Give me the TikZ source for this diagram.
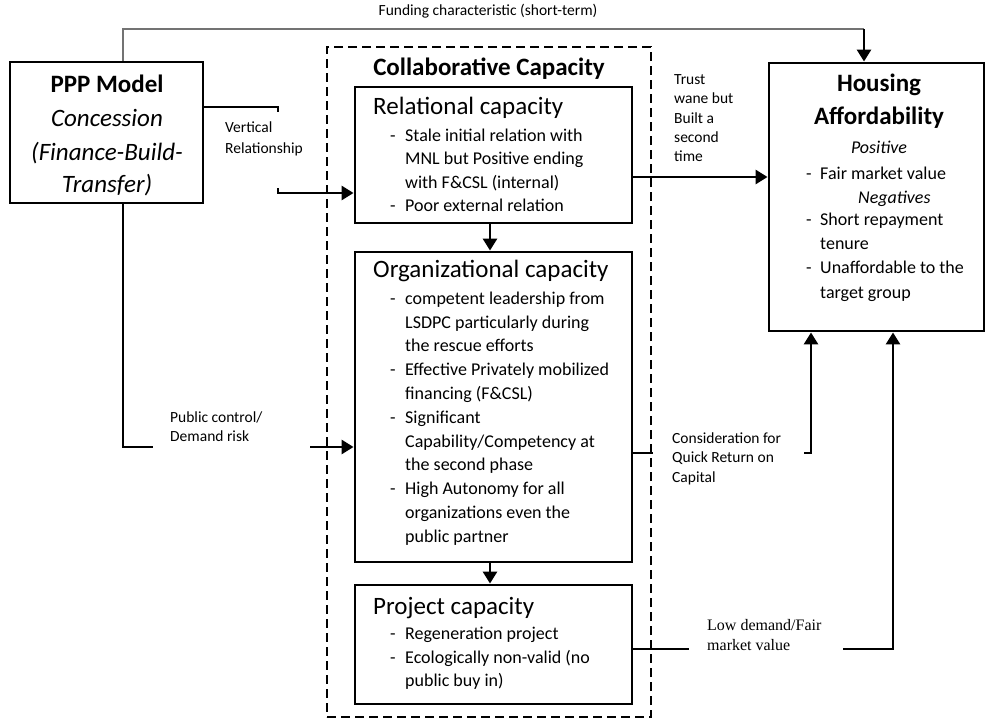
\documentclass[tikz,border=0pt]{standalone}
\usepackage{fontspec}
\setmainfont{Carlito}
\newfontfamily\lserif{Liberation Serif}
\usetikzlibrary{arrows.meta,calc}
\tikzset{
 box/.style={draw, line width=2.9pt, rectangle, inner sep=0pt},
 dbox/.style={draw, line width=2.8pt, dash pattern=on 9pt off 5pt, rectangle, inner sep=0pt},
 conn/.style={line width=2.8pt},
 arr/.style={line width=2.8pt, -{Triangle[length=12pt,width=14pt]}},
 grayline/.style={line width=1.2pt, draw=black!55},
 bt/.style={font=\fontsize{18}{22}\selectfont, anchor=mid west, inner sep=0pt},
 hd/.style={font=\fontsize{25}{29}\selectfont, anchor=mid west, inner sep=0pt},
 bighd/.style={font=\bfseries\fontsize{25}{30}\selectfont, anchor=mid, inner sep=0pt},
 bigit/.style={font=\itshape\fontsize{25}{30}\selectfont, anchor=mid, inner sep=0pt},
 lb/.style={font=\fontsize{15.5}{19}\selectfont, anchor=mid west, inner sep=0pt},
 lbs/.style={font=\lserif\fontsize{16}{19}\selectfont, anchor=mid west, inner sep=0pt},
}
\begin{document}
\begin{tikzpicture}[x=1pt,y=-1pt]
\useasboundingbox (0,0) rectangle (987,720);
% boxes
\node[dbox, minimum width=324pt, minimum height=670pt] (coll) at (489,382) {};
\node[box, minimum width=193pt, minimum height=141pt] (ppp) at (106.5,132.5) {};
\node[box, minimum width=277pt, minimum height=136pt] (rel) at (493.5,155) {};
\node[box, minimum width=277pt, minimum height=310pt] (org) at (493.5,407) {};
\node[box, minimum width=277pt, minimum height=119pt] (proj) at (493.5,644.5) {};
\node[box, minimum width=215pt, minimum height=268pt] (house) at (876.5,197) {};

% PPP text
\node[bighd] (p1) at (107,90) {PPP Model};
\node[bigit] (p2) at (107,124) {Concession};
\node[bigit] (p3) at (107,158) {(Finance-Build-};
\node[bigit] (p4) at (107,190) {Transfer)};

% Collaborative title
\node[bighd] (ct) at (489,73) {Collaborative Capacity};

% Relational
\node[hd] (rt) at (373,112) {Relational capacity};
\node[bt] (rd1) at (390,139) {-};
\node[bt] (r1) at (405,139) {Stale initial relation with};
\node[bt] (r2) at (405,162.5) {MNL but Positive ending};
\node[bt] (r3) at (405,186) {with F\&CSL (internal)};
\node[bt] (rd2) at (390,209.5) {-};
\node[bt] (r4) at (405,209.5) {Poor external relation};

% Organizational
\node[hd] (ot) at (373,275) {Organizational capacity};
\node[bt] (od1) at (390,302) {-};
\node[bt] (o1) at (405,302) {competent leadership from};
\node[bt] (o2) at (405,326) {LSDPC particularly during};
\node[bt] (o3) at (405,349) {the rescue efforts};
\node[bt] (od2) at (390,373) {-};
\node[bt] (o4) at (405,373) {Effective Privately mobilized};
\node[bt] (o5) at (405,397) {financing (F\&CSL)};
\node[bt] (od3) at (390,421) {-};
\node[bt] (o6) at (405,421) {Significant};
\node[bt] (o7) at (405,445) {Capability/Competency at};
\node[bt] (o8) at (405,468) {the second phase};
\node[bt] (od4) at (390,492) {-};
\node[bt] (o9) at (405,492) {High Autonomy for all};
\node[bt] (o10) at (405,516) {organizations even the};
\node[bt] (o11) at (405,540) {public partner};

% Project
\node[hd] (jt) at (373,612) {Project capacity};
\node[bt] (jd1) at (390,637) {-};
\node[bt] (j1) at (405,637) {Regeneration project};
\node[bt] (jd2) at (390,661) {-};
\node[bt] (j2) at (405,661) {Ecologically non-valid (no};
\node[bt] (j3) at (405,684) {public buy in)};

% Housing
\node[bighd] (h1) at (879,89) {Housing};
\node[bighd] (h2) at (879,122) {Affordability};
\node[font=\itshape\fontsize{18}{22}\selectfont, anchor=mid, inner sep=0pt] (hp) at (879,151) {Positive};
\node[bt] (hd1) at (806,177) {-};
\node[bt] (hx1) at (820,177) {Fair market value};
\node[font=\itshape\fontsize{18}{22}\selectfont, anchor=mid west, inner sep=0pt] (hn) at (858,201) {Negatives};
\node[bt] (hd2) at (806,223) {-};
\node[bt] (hx2) at (820,223) {Short repayment};
\node[bt] (hx3) at (820,247) {tenure};
\node[bt] (hd3) at (806,271) {-};
\node[bt] (hx4) at (820,271) {Unaffordable to the};
\node[bt] (hx5) at (820,296) {target group};

% labels
\node[font=\fontsize{15.5}{19}\selectfont, anchor=mid, inner sep=0pt] (fl) at (488,13) {Funding characteristic (short-term)};
\node[lb] (v1) at (225,130) {Vertical};
\node[lb] (v2) at (225,151) {Relationship};
\node[lb] (t1) at (674,82) {Trust};
\node[lb] (t2) at (674,101.5) {wane but};
\node[lb] (t3) at (674,121) {Built a};
\node[lb] (t4) at (674,140) {second};
\node[lb] (t5) at (674,159) {time};
\node[lb] (pc1l) at (170,420) {Public control/};
\node[lb] (pc2l) at (170,439) {Demand risk};
\node[lb] (q1) at (672,441) {Consideration for};
\node[lb] (q2) at (672,460) {Quick Return on};
\node[lb] (q3) at (672,480) {Capital};
\node[lbs] (l1) at (707,628) {Low demand/Fair};
\node[lbs] (l2) at (707,648) {market value};

% coordinates
\coordinate (fa) at (123,29);
\coordinate (fb) at (864,29);
\coordinate (vr1) at (278,107);
\coordinate (vr1t) at (278,112);
\coordinate (vr2t) at (278,188);
\coordinate (vr2) at (278,193);
\coordinate (tr) at (700,177);
\coordinate (ax) at (490,0);
\coordinate (pc1) at (123,447);
\coordinate (pc2) at (153,447);
\coordinate (pc3) at (310,447);
\coordinate (cq1) at (653,453);
\coordinate (cq2) at (804,453);
\coordinate (cq3) at (811,453);
\coordinate (ld1) at (689,649);
\coordinate (ld2) at (843,649);
\coordinate (ld3) at (893,649);

% connectors
\draw[grayline] (ppp.north -| fa) -- (fa) -- (fb);
\draw[arr] (fb) -- (house.north -| fb);
\draw[conn] (ppp.east |- vr1) -- (vr1) -- (vr1t);
\draw[arr] (vr2t) -- (vr2) -- (rel.west |- vr2);
\draw[arr] (rel.east |- tr) -- (house.west |- tr);
\draw[arr] (rel.south -| ax) -- (org.north -| ax);
\draw[arr] (org.south -| ax) -- (proj.north -| ax);
\draw[conn] (ppp.south -| pc1) -- (pc1) -- (pc2);
\draw[arr] (pc3) -- (org.west |- pc3);
\draw[conn] (org.east |- cq1) -- (cq1);
\draw[arr] (cq2) -- (cq3) -- (house.south -| cq3);
\draw[conn] (proj.east |- ld1) -- (ld1);
\draw[arr] (ld2) -- (ld3) -- (house.south -| ld3);
\end{tikzpicture}
\end{document}
